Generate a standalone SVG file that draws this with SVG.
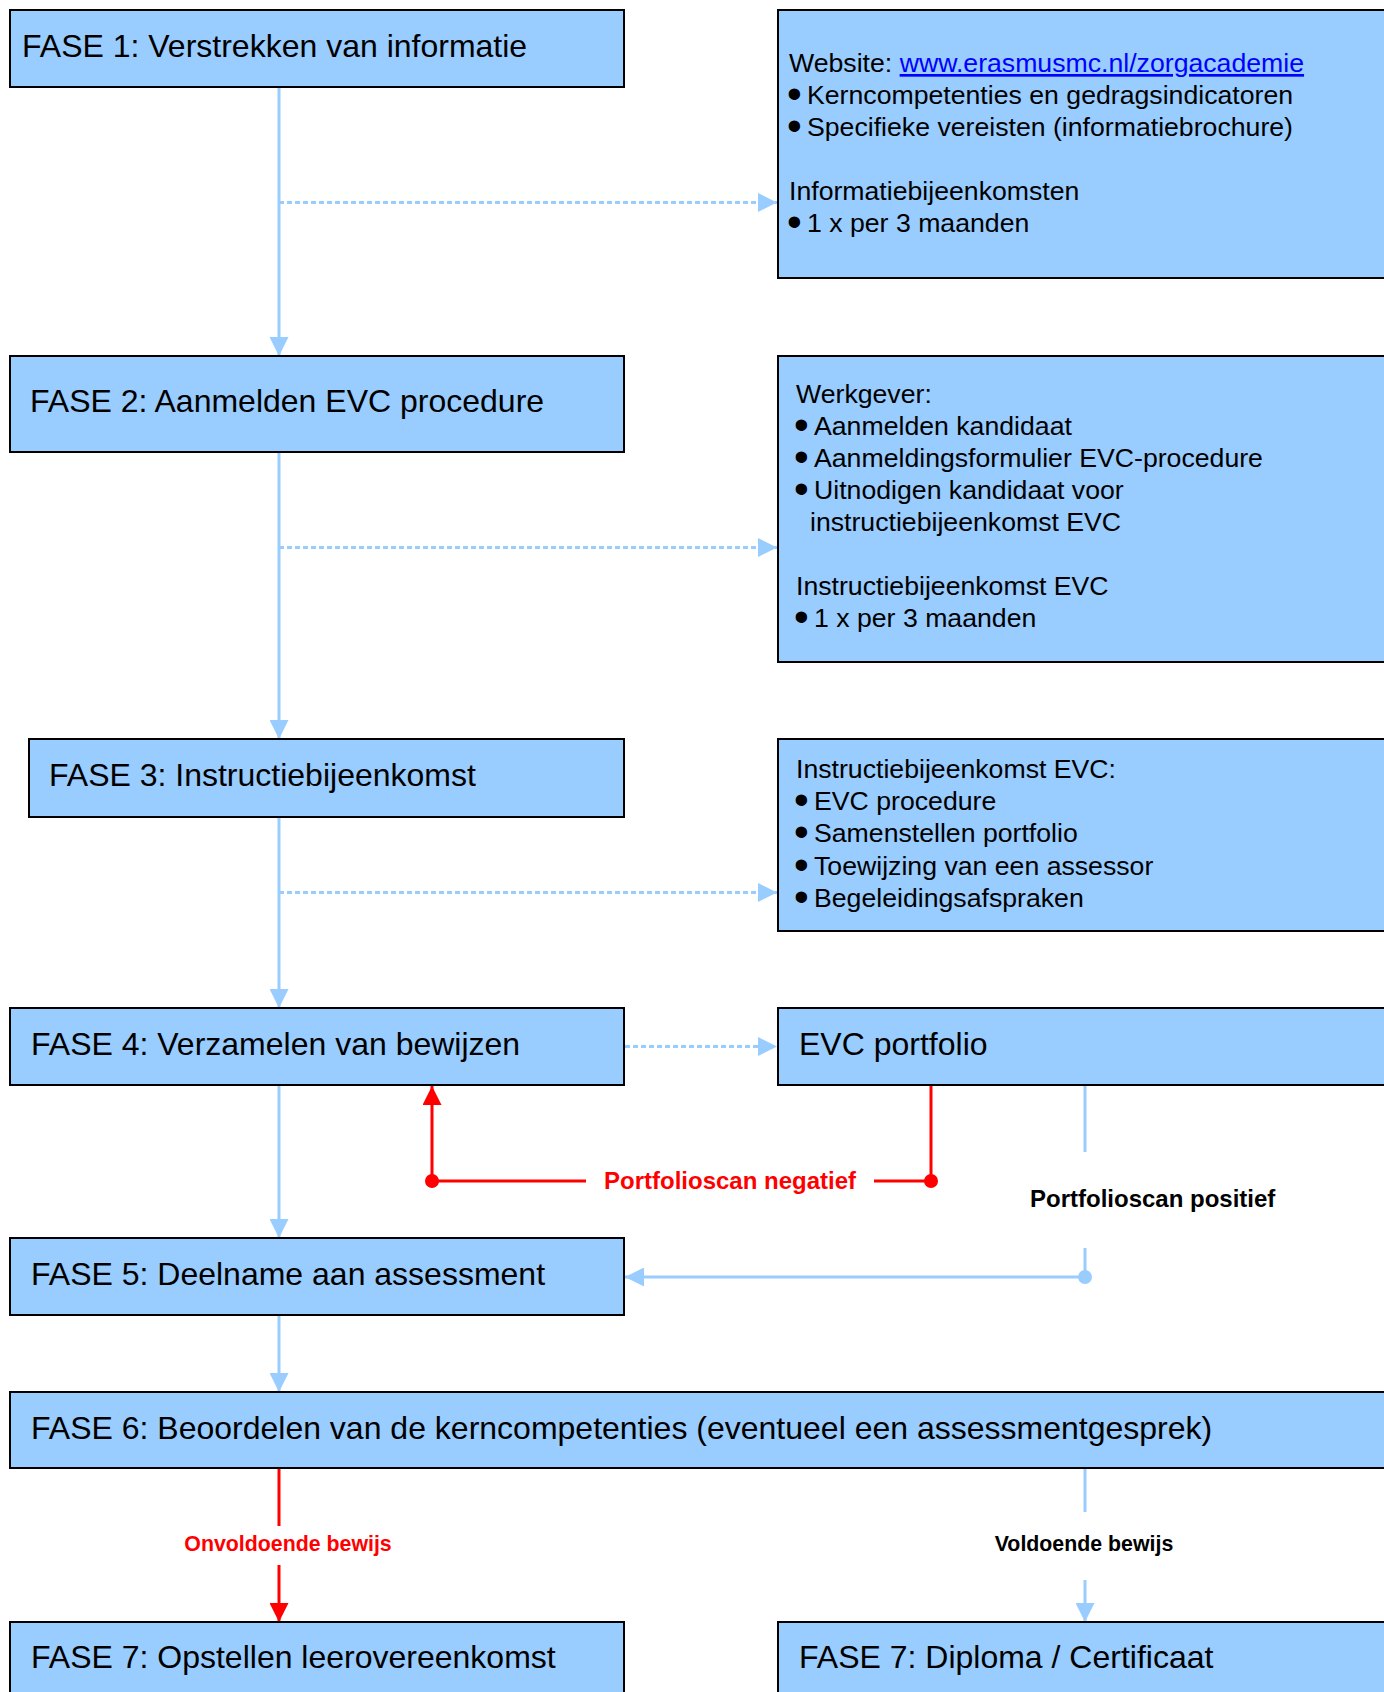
<svg xmlns="http://www.w3.org/2000/svg" width="1384" height="1692" viewBox="0 0 1384 1692">
<style>
.box{fill:#99CCFF;stroke:#000;stroke-width:2}
.t{font-family:"Liberation Sans",Arial,sans-serif;font-size:32px;fill:#000}
.s{font-family:"Liberation Sans",Arial,sans-serif;font-size:26.67px;fill:#000}
.b{font-size:42px}
.lb{font-family:"Liberation Sans",Arial,sans-serif;font-weight:bold;fill:#000}
.red{fill:#FF0000}
.link{fill:#0000FF;text-decoration:underline}
.cb{fill:none;stroke:#99CCFF;stroke-width:3}
.cd{fill:none;stroke:#99CCFF;stroke-width:3;stroke-dasharray:5 3}
.cr{fill:none;stroke:#FF0000;stroke-width:3}
</style>
<defs>
<marker id="ab" viewBox="0 0 19 19" refX="19" refY="9.5" markerWidth="19" markerHeight="19" markerUnits="userSpaceOnUse" orient="auto"><path d="M0,0 L19,9.5 L0,19 Z" fill="#99CCFF"/></marker>
<marker id="ar" viewBox="0 0 19 19" refX="19" refY="9.5" markerWidth="19" markerHeight="19" markerUnits="userSpaceOnUse" orient="auto"><path d="M0,0 L19,9.5 L0,19 Z" fill="#FF0000"/></marker>
</defs>

<g id="connectors">
<path class="cb" d="M279,87 V356" marker-end="url(#ab)"/>
<path class="cb" d="M279,452 V739" marker-end="url(#ab)"/>
<path class="cb" d="M279,817 V1008" marker-end="url(#ab)"/>
<path class="cb" d="M279,1085 V1238" marker-end="url(#ab)"/>
<path class="cb" d="M279,1315 V1392" marker-end="url(#ab)"/>
<path class="cd" d="M279,202.5 H777" marker-end="url(#ab)"/>
<path class="cd" d="M279,547.5 H777" marker-end="url(#ab)"/>
<path class="cd" d="M279,892.5 H777" marker-end="url(#ab)"/>
<path class="cd" d="M625,1046.5 H777" marker-end="url(#ab)"/>
<path class="cr" d="M931,1085 V1181 H874"/>
<path class="cr" d="M586,1181 H432 V1086" marker-end="url(#ar)"/>
<circle cx="931" cy="1181" r="7" fill="#FF0000"/>
<circle cx="432" cy="1181" r="7" fill="#FF0000"/>
<path class="cb" d="M1085,1085 V1152"/>
<path class="cb" d="M1085,1248 V1277 H625" marker-end="url(#ab)"/>
<circle cx="1085" cy="1277" r="7" fill="#99CCFF"/>
<path class="cr" d="M279,1468 V1526"/>
<path class="cr" d="M279,1565 V1622" marker-end="url(#ar)"/>
<path class="cb" d="M1085,1468 V1512"/>
<path class="cb" d="M1085,1580 V1622" marker-end="url(#ab)"/>
<text class="lb red" x="604" y="1189" font-size="24">Portfolioscan negatief</text>
<text class="lb" x="1030" y="1207" font-size="24">Portfolioscan positief</text>
<text class="lb red" x="288" y="1551" font-size="21.33" text-anchor="middle">Onvoldoende bewijs</text>
<text class="lb" x="1084" y="1551" font-size="21.33" text-anchor="middle">Voldoende bewijs</text>
</g>

<g id="fase1"><rect class="box" x="10" y="10" width="614" height="77"/><text class="t" x="22" y="57">FASE 1: Verstrekken van informatie</text></g>
<g id="info1"><rect class="box" x="778" y="10" width="620" height="268"/>
<text class="s"><tspan x="789" y="72">Website: </tspan><tspan class="link">www.erasmusmc.nl/zorgacademie</tspan>
<tspan class="b" x="787" y="108">•</tspan><tspan x="807" y="104">Kerncompetenties en gedragsindicatoren</tspan>
<tspan class="b" x="787" y="140">•</tspan><tspan x="807" y="136">Specifieke vereisten (informatiebrochure)</tspan>
<tspan x="789" y="200">Informatiebijeenkomsten</tspan>
<tspan class="b" x="787" y="236">•</tspan><tspan x="807" y="232">1 x per 3 maanden</tspan></text></g>

<g id="fase2"><rect class="box" x="10" y="356" width="614" height="96"/><text class="t" x="30" y="412">FASE 2: Aanmelden EVC procedure</text></g>
<g id="info2"><rect class="box" x="778" y="356" width="620" height="306"/>
<text class="s"><tspan x="796" y="403">Werkgever:</tspan>
<tspan class="b" x="794" y="439">•</tspan><tspan x="814" y="435">Aanmelden kandidaat</tspan>
<tspan class="b" x="794" y="471">•</tspan><tspan x="814" y="467">Aanmeldingsformulier EVC-procedure</tspan>
<tspan class="b" x="794" y="503">•</tspan><tspan x="814" y="499">Uitnodigen kandidaat voor</tspan>
<tspan x="810" y="531">instructiebijeenkomst EVC</tspan>
<tspan x="796" y="595">Instructiebijeenkomst EVC</tspan>
<tspan class="b" x="794" y="631">•</tspan><tspan x="814" y="627">1 x per 3 maanden</tspan></text></g>

<g id="fase3"><rect class="box" x="29" y="739" width="595" height="78"/><text class="t" x="49" y="786">FASE 3: Instructiebijeenkomst</text></g>
<g id="info3"><rect class="box" x="778" y="739" width="620" height="192"/>
<text class="s"><tspan x="796" y="778">Instructiebijeenkomst EVC:</tspan>
<tspan class="b" x="794" y="814">•</tspan><tspan x="814" y="810">EVC procedure</tspan>
<tspan class="b" x="794" y="846">•</tspan><tspan x="814" y="842">Samenstellen portfolio</tspan>
<tspan class="b" x="794" y="879">•</tspan><tspan x="814" y="875">Toewijzing van een assessor</tspan>
<tspan class="b" x="794" y="911">•</tspan><tspan x="814" y="907">Begeleidingsafspraken</tspan></text></g>

<g id="fase4"><rect class="box" x="10" y="1008" width="614" height="77"/><text class="t" x="31" y="1055">FASE 4: Verzamelen van bewijzen</text></g>
<g id="portfolio"><rect class="box" x="778" y="1008" width="620" height="77"/><text class="t" x="799" y="1055">EVC portfolio</text></g>
<g id="fase5"><rect class="box" x="10" y="1238" width="614" height="77"/><text class="t" x="31" y="1285">FASE 5: Deelname aan assessment</text></g>
<g id="fase6"><rect class="box" x="10" y="1392" width="1390" height="76"/><text class="t" x="31" y="1439">FASE 6: Beoordelen van de kerncompetenties (eventueel een assessmentgesprek)</text></g>
<g id="fase7a"><rect class="box" x="10" y="1622" width="614" height="77"/><text class="t" x="31" y="1668">FASE 7: Opstellen leerovereenkomst</text></g>
<g id="fase7b"><rect class="box" x="778" y="1622" width="620" height="77"/><text class="t" x="799" y="1668">FASE 7: Diploma / Certificaat</text></g>
</svg>
